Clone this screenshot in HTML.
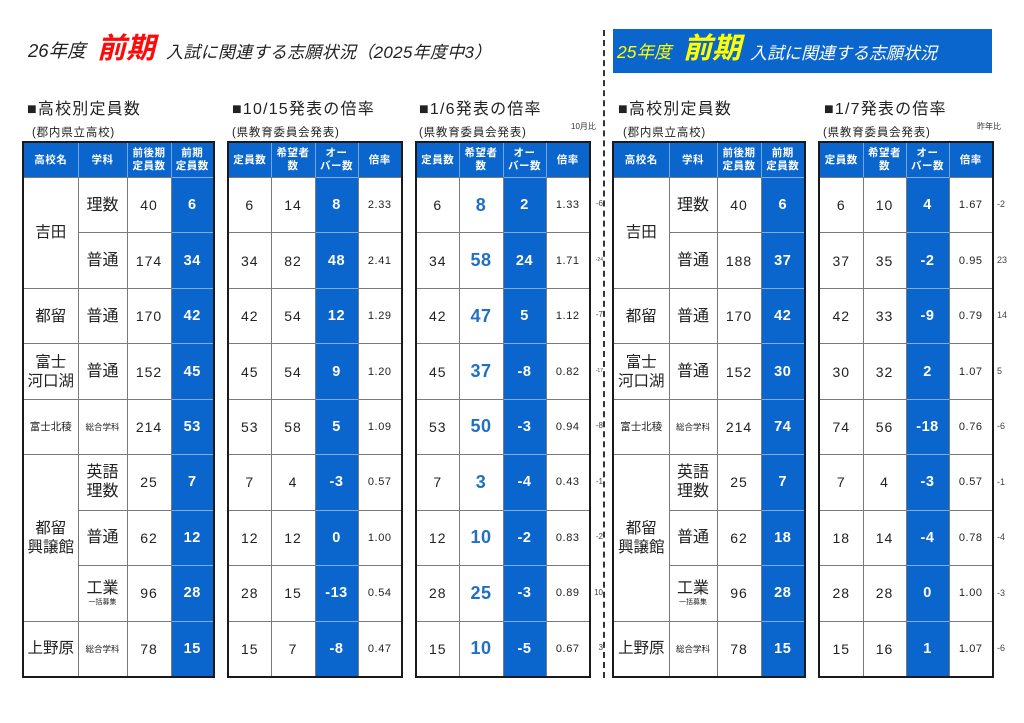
<!DOCTYPE html>
<html><head><meta charset="utf-8">
<style>
*{margin:0;padding:0;box-sizing:border-box}
body{width:1024px;height:723px;background:#fff;position:relative;overflow:hidden;font-family:"Liberation Sans","Noto Sans CJK JP",sans-serif;color:#222}
.a{position:absolute;white-space:nowrap}
.t{position:absolute;top:141px;height:537px;border:2px solid #1a1a1a;display:grid;gap:1px;background:#7a7a7a;grid-template-rows:34px repeat(9,1fr)}
.t>div{background:#fff;display:flex;align-items:center;justify-content:center;text-align:center;color:#222;flex-direction:column}
.t>div.h{background:#0a66cc;color:#fff;font-size:10.5px;font-weight:bold;line-height:13px;letter-spacing:.5px}
.t>div.h+div.h{margin-left:-1px;border-left:1px solid #6ea6e8}
.t>div.b{background:#0a66cc;color:#fff;font-weight:bold;font-size:14.5px;margin-top:-1px;border-top:1px solid #7ab0ee;letter-spacing:.5px}
.s{font-size:15.5px;line-height:19px}
.d{font-size:16px;line-height:19px}
.n{font-size:14px;letter-spacing:1px}
.r{font-size:11px;letter-spacing:.6px}
.k{font-size:18px;font-weight:bold;color:#1f70c4!important;letter-spacing:.5px}
.sm{font-size:10.5px}
.xs{font-size:8.5px}
.tiny{font-size:7px;line-height:9px}
.sp2{grid-row:span 2}
.sp3{grid-row:span 3}
.t1{left:22px;width:193px;grid-template-columns:53.5px 48px 43px 41.5px}
.t2{left:227px;width:176px;grid-template-columns:41.5px 43px 42px 42.5px}
.t3{left:415px;width:176px;grid-template-columns:41.5px 43px 42px 42.5px}
.t4{left:612px;width:194px;grid-template-columns:54.5px 47px 43px 42.5px}
.t5{left:818px;width:176px;grid-template-columns:42.5px 42px 42px 42.5px}
.hd{font-size:16px;top:95px;letter-spacing:1.2px}
.sub{font-size:11.5px;top:124px;letter-spacing:.8px}
.note{position:absolute;font-size:8px;color:#444;width:14px;text-align:right;left:589px}
.note2{position:absolute;font-size:9px;color:#444;left:997px}
</style></head><body>

<!-- left title -->
<div class="a" style="left:28px;top:39px;font-size:18.5px;font-style:italic;line-height:24px">26年度</div>
<div class="a" style="left:97px;top:30px;font-size:29px;font-style:italic;font-weight:bold;color:#ff0a0a;line-height:38px">前期</div>
<div class="a" style="left:166px;top:41px;font-size:17px;font-style:italic;line-height:24px;letter-spacing:.3px">入試に関連する志願状況（2025年度中3）</div>

<!-- right banner -->
<div class="a" style="left:613px;top:29px;width:379px;height:44px;background:#0a66cc"></div>
<div class="a" style="left:617px;top:40px;font-size:17.5px;font-style:italic;color:#ffff00;line-height:24px">25年度</div>
<div class="a" style="left:683px;top:30px;font-size:29px;font-style:italic;font-weight:bold;color:#ffff00;line-height:38px">前期</div>
<div class="a" style="left:750px;top:42px;font-size:17px;font-style:italic;color:#fff;line-height:24px">入試に関連する志願状況</div>

<!-- dashed divider -->
<div class="a" style="left:603px;top:30px;width:0;height:648px;border-left:2px dashed #333"></div>

<!-- headings -->
<div class="a hd" style="left:27px">■高校別定員数</div>
<div class="a hd" style="left:232px">■10/15発表の倍率</div>
<div class="a hd" style="left:419px">■1/6発表の倍率</div>
<div class="a hd" style="left:618px">■高校別定員数</div>
<div class="a hd" style="left:824px">■1/7発表の倍率</div>

<div class="a sub" style="left:32px">(郡内県立高校)</div>
<div class="a sub" style="left:232px">(県教育委員会発表)</div>
<div class="a sub" style="left:419px">(県教育委員会発表)</div>
<div class="a sub" style="left:623px">(郡内県立高校)</div>
<div class="a sub" style="left:823px">(県教育委員会発表)</div>
<div class="a" style="left:571px;top:121px;font-size:8px;color:#333">10月比</div>
<div class="a" style="left:977px;top:121px;font-size:8px;color:#333">昨年比</div>

<!-- Table 1 -->
<div class="t t1">
<div class="h">高校名</div><div class="h">学科</div><div class="h">前後期<br>定員数</div><div class="h">前期<br>定員数</div>
<div class="s sp2">吉田</div><div class="d">理数</div><div class="n">40</div><div class="b">6</div>
<div class="d">普通</div><div class="n">174</div><div class="b">34</div>
<div class="s">都留</div><div class="d">普通</div><div class="n">170</div><div class="b">42</div>
<div class="s">富士<br>河口湖</div><div class="d">普通</div><div class="n">152</div><div class="b">45</div>
<div class="sm">富士北稜</div><div class="xs">総合学科</div><div class="n">214</div><div class="b">53</div>
<div class="s sp3">都留<br>興譲館</div><div class="d">英語<br>理数</div><div class="n">25</div><div class="b">7</div>
<div class="d">普通</div><div class="n">62</div><div class="b">12</div>
<div class="d">工業<span class="tiny">一括募集</span></div><div class="n">96</div><div class="b">28</div>
<div class="s">上野原</div><div class="xs">総合学科</div><div class="n">78</div><div class="b">15</div>
</div>

<!-- Table 2 -->
<div class="t t2">
<div class="h">定員数</div><div class="h">希望者<br>数</div><div class="h">オー<br>バー数</div><div class="h">倍率</div>
<div class="n">6</div><div class="n">14</div><div class="b">8</div><div class="r">2.33</div>
<div class="n">34</div><div class="n">82</div><div class="b">48</div><div class="r">2.41</div>
<div class="n">42</div><div class="n">54</div><div class="b">12</div><div class="r">1.29</div>
<div class="n">45</div><div class="n">54</div><div class="b">9</div><div class="r">1.20</div>
<div class="n">53</div><div class="n">58</div><div class="b">5</div><div class="r">1.09</div>
<div class="n">7</div><div class="n">4</div><div class="b">-3</div><div class="r">0.57</div>
<div class="n">12</div><div class="n">12</div><div class="b">0</div><div class="r">1.00</div>
<div class="n">28</div><div class="n">15</div><div class="b">-13</div><div class="r">0.54</div>
<div class="n">15</div><div class="n">7</div><div class="b">-8</div><div class="r">0.47</div>
</div>

<!-- Table 3 -->
<div class="t t3">
<div class="h">定員数</div><div class="h">希望者<br>数</div><div class="h">オー<br>バー数</div><div class="h">倍率</div>
<div class="n">6</div><div class="k">8</div><div class="b">2</div><div class="r">1.33</div>
<div class="n">34</div><div class="k">58</div><div class="b">24</div><div class="r">1.71</div>
<div class="n">42</div><div class="k">47</div><div class="b">5</div><div class="r">1.12</div>
<div class="n">45</div><div class="k">37</div><div class="b">-8</div><div class="r">0.82</div>
<div class="n">53</div><div class="k">50</div><div class="b">-3</div><div class="r">0.94</div>
<div class="n">7</div><div class="k">3</div><div class="b">-4</div><div class="r">0.43</div>
<div class="n">12</div><div class="k">10</div><div class="b">-2</div><div class="r">0.83</div>
<div class="n">28</div><div class="k">25</div><div class="b">-3</div><div class="r">0.89</div>
<div class="n">15</div><div class="k">10</div><div class="b">-5</div><div class="r">0.67</div>
</div>

<!-- notes t3 -->
<div class="note" style="top:199px">-6</div>
<div class="note" style="top:257px;font-size:5px">-24</div>
<div class="note" style="top:310px">-7</div>
<div class="note" style="top:368px;font-size:5px">-17</div>
<div class="note" style="top:421px">-8</div>
<div class="note" style="top:477px">-1</div>
<div class="note" style="top:532px">-2</div>
<div class="note" style="top:588px">10</div>
<div class="note" style="top:643px">3</div>

<!-- Table 4 -->
<div class="t t4">
<div class="h">高校名</div><div class="h">学科</div><div class="h">前後期<br>定員数</div><div class="h">前期<br>定員数</div>
<div class="s sp2">吉田</div><div class="d">理数</div><div class="n">40</div><div class="b">6</div>
<div class="d">普通</div><div class="n">188</div><div class="b">37</div>
<div class="s">都留</div><div class="d">普通</div><div class="n">170</div><div class="b">42</div>
<div class="s">富士<br>河口湖</div><div class="d">普通</div><div class="n">152</div><div class="b">30</div>
<div class="sm">富士北稜</div><div class="xs">総合学科</div><div class="n">214</div><div class="b">74</div>
<div class="s sp3">都留<br>興譲館</div><div class="d">英語<br>理数</div><div class="n">25</div><div class="b">7</div>
<div class="d">普通</div><div class="n">62</div><div class="b">18</div>
<div class="d">工業<span class="tiny">一括募集</span></div><div class="n">96</div><div class="b">28</div>
<div class="s">上野原</div><div class="xs">総合学科</div><div class="n">78</div><div class="b">15</div>
</div>

<!-- Table 5 -->
<div class="t t5">
<div class="h">定員数</div><div class="h">希望者<br>数</div><div class="h">オー<br>バー数</div><div class="h">倍率</div>
<div class="n">6</div><div class="n">10</div><div class="b">4</div><div class="r">1.67</div>
<div class="n">37</div><div class="n">35</div><div class="b">-2</div><div class="r">0.95</div>
<div class="n">42</div><div class="n">33</div><div class="b">-9</div><div class="r">0.79</div>
<div class="n">30</div><div class="n">32</div><div class="b">2</div><div class="r">1.07</div>
<div class="n">74</div><div class="n">56</div><div class="b">-18</div><div class="r">0.76</div>
<div class="n">7</div><div class="n">4</div><div class="b">-3</div><div class="r">0.57</div>
<div class="n">18</div><div class="n">14</div><div class="b">-4</div><div class="r">0.78</div>
<div class="n">28</div><div class="n">28</div><div class="b">0</div><div class="r">1.00</div>
<div class="n">15</div><div class="n">16</div><div class="b">1</div><div class="r">1.07</div>
</div>

<!-- notes t5 -->
<div class="note2" style="top:199px">-2</div>
<div class="note2" style="top:255px">23</div>
<div class="note2" style="top:310px">14</div>
<div class="note2" style="top:366px">5</div>
<div class="note2" style="top:421px">-6</div>
<div class="note2" style="top:477px">-1</div>
<div class="note2" style="top:532px">-4</div>
<div class="note2" style="top:588px">-3</div>
<div class="note2" style="top:643px">-6</div>

</body></html>
